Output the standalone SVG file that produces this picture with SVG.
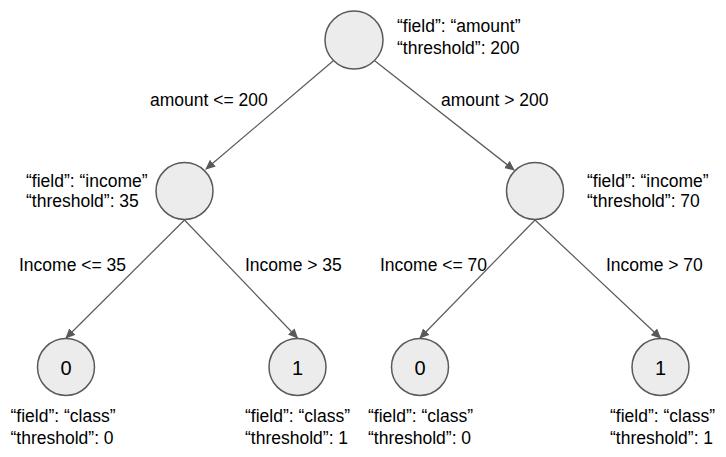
<svg xmlns="http://www.w3.org/2000/svg" width="726" height="457" viewBox="0 0 726 457">
<defs>
<marker id="arr" viewBox="0 0 10 10" refX="9" refY="5" markerWidth="10" markerHeight="10" markerUnits="userSpaceOnUse" orient="auto">
<path d="M0,0.5 L10,5 L0,9.5 z" fill="#595959"/>
</marker>
<style>
.n{fill:#ececec;stroke:#595959;stroke-width:1.5}
.t{font-family:"Liberation Sans",Arial,sans-serif;font-size:17.5px;fill:#000}
.d{font-family:"Liberation Sans",Arial,sans-serif;font-size:20px;fill:#000;text-anchor:middle}
.e{stroke:#595959;stroke-width:1.2;fill:none;marker-end:url(#arr)}
</style>
</defs>
<rect width="726" height="457" fill="#fff"/>
<g id="connectors">
<line class="e" x1="333" y1="61" x2="206" y2="169"/>
<line class="e" x1="375" y1="61" x2="514" y2="170"/>
<line class="e" x1="184.5" y1="220" x2="66" y2="338"/>
<line class="e" x1="184.5" y1="220" x2="297.5" y2="338"/>
<line class="e" x1="535" y1="220" x2="420" y2="338"/>
<line class="e" x1="535" y1="220" x2="660.5" y2="338"/>
<text class="t" x="150" y="106">amount &lt;= 200</text>
<text class="t" x="441" y="106">amount &gt; 200</text>
<text class="t" x="19" y="271">Income &lt;= 35</text>
<text class="t" x="245" y="271">Income &gt; 35</text>
<text class="t" x="380" y="271">Income &lt;= 70</text>
<text class="t" x="606" y="271">Income &gt; 70</text>
</g>
<g id="root">
<circle class="n" cx="354" cy="40" r="29"/>
<text class="t" x="397" y="32">“field”: “amount”</text>
<text class="t" x="397" y="54">“threshold”: 200</text>
</g>
<g id="income35">
<circle class="n" cx="184.5" cy="191" r="28.5"/>
<text class="t" x="26" y="187">“field”: “income”</text>
<text class="t" x="26" y="207">“threshold”: 35</text>
</g>
<g id="income70">
<circle class="n" cx="535" cy="191" r="28.5"/>
<text class="t" x="587" y="187">“field”: “income”</text>
<text class="t" x="587" y="207">“threshold”: 70</text>
</g>
<g id="leaf1">
<circle class="n" cx="66" cy="367" r="28.5"/>
<text class="d" x="66" y="375">0</text>
<text class="t" x="10.5" y="422">“field”: “class”</text>
<text class="t" x="10.5" y="444">“threshold”: 0</text>
</g>
<g id="leaf2">
<circle class="n" cx="297.5" cy="367" r="28.5"/>
<text class="d" x="297.5" y="375">1</text>
<text class="t" x="245" y="422">“field”: “class”</text>
<text class="t" x="245" y="444">“threshold”: 1</text>
</g>
<g id="leaf3">
<circle class="n" cx="420" cy="367" r="28.5"/>
<text class="d" x="420" y="375">0</text>
<text class="t" x="368" y="422">“field”: “class”</text>
<text class="t" x="368" y="444">“threshold”: 0</text>
</g>
<g id="leaf4">
<circle class="n" cx="660.5" cy="367" r="28.5"/>
<text class="d" x="660.5" y="375">1</text>
<text class="t" x="610" y="422">“field”: “class”</text>
<text class="t" x="610" y="444">“threshold”: 1</text>
</g>
</svg>
